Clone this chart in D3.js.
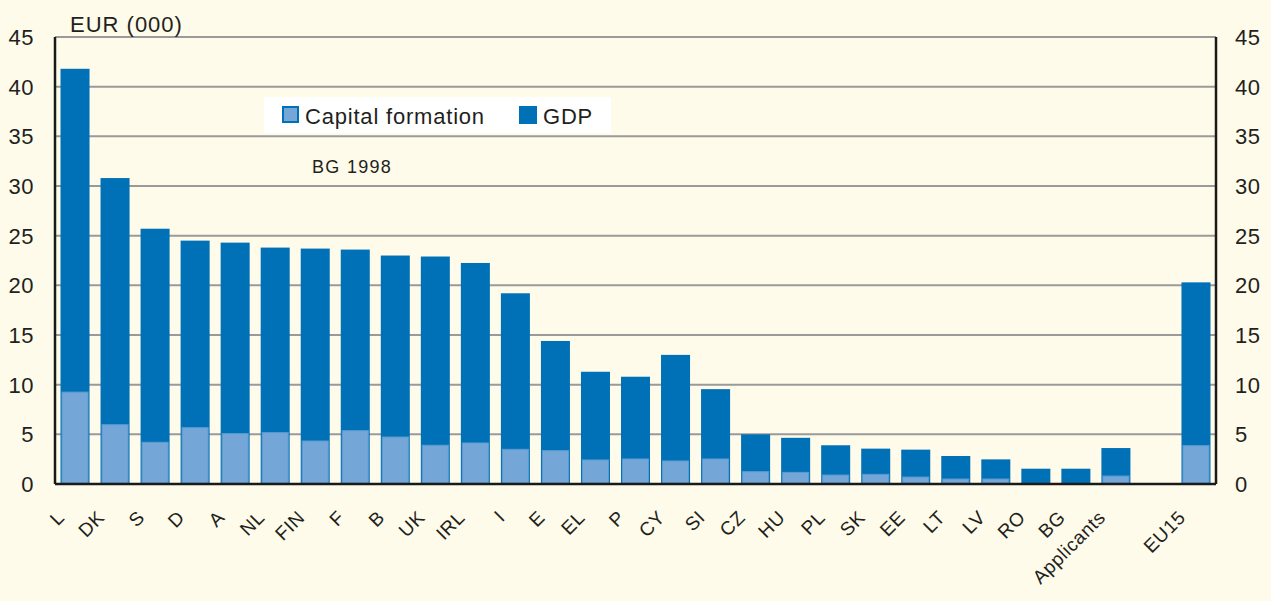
<!DOCTYPE html>
<html>
<head>
<meta charset="utf-8">
<script src="https://cdn.jsdelivr.net/npm/d3@7"></script>
<style>
  body { margin: 0; background: #fefbea; }
  svg { display: block; font-family: "Liberation Sans", Arial, sans-serif; }
</style>
</head>
<body>
<div id="chart"></div>
<script>
// Countries (empty slot before EU15 keeps the gap)
const countries = ['L', 'DK', 'S', 'D', 'A', 'NL', 'FIN', 'F', 'B', 'UK', 'IRL', 'I', 'E', 'EL', 'P',
  'CY', 'SI', 'CZ', 'HU', 'PL', 'SK', 'EE', 'LT', 'LV', 'RO', 'BG', 'Applicants', '', 'EU15'];
// GDP per head, EUR (000)
const gdp = [41.8, 30.8, 25.7, 24.5, 24.3, 23.8, 23.7, 23.6, 23.0, 22.9, 22.25, 19.2, 14.4, 11.3, 10.8,
  13.0, 9.55, 5.0, 4.65, 3.9, 3.56, 3.46, 2.82, 2.48, 1.54, 1.54, 3.62, null, 20.3];
// Gross fixed capital formation per head, EUR (000)
const capital = [9.25, 5.97, 4.2, 5.67, 5.07, 5.17, 4.33, 5.37, 4.73, 3.9, 4.13, 3.49, 3.36, 2.42, 2.52,
  2.32, 2.52, 1.24, 1.17, 0.9, 0.97, 0.7, 0.5, 0.5, 0, 0, 0.8, null, 3.86];
const yTicks = [0, 5, 10, 15, 20, 25, 30, 35, 40, 45];

const width = 1271, height = 601;
const margin = { left: 55, right: 55, top: 37, bottom: 117 };
const dark = '#0071b7', light = '#74a7d7', bg = '#fefbea', ink = '#231f20';

const svg = d3.select('#chart').append('svg')
  .attr('width', width)
  .attr('height', height);

svg.append('rect').attr('width', width).attr('height', height).attr('fill', bg);

const x = d3.scaleBand()
  .domain(countries.map((c, i) => i))
  .range([margin.left, width - margin.right])
  .paddingInner(0.275)
  .paddingOuter(0.1375);

const y = d3.scaleLinear()
  .domain([0, 45])
  .range([height - margin.bottom, margin.top]);

// grid lines
svg.append('g')
  .selectAll('line')
  .data(yTicks.filter(d => d > 0))
  .enter()
  .append('line')
  .attr('x1', margin.left)
  .attr('x2', width - margin.right)
  .attr('y1', d => y(d))
  .attr('y2', d => y(d))
  .style('stroke', '#9a9a9a')
  .style('stroke-width', 2);

const data = countries.map((c, i) => ({ i, c, gdp: gdp[i], cap: capital[i] }))
  .filter(d => d.gdp != null);

// GDP bars
svg.append('g')
  .selectAll('rect')
  .data(data)
  .enter()
  .append('rect')
  .attr('x', d => x(d.i))
  .attr('y', d => y(d.gdp))
  .attr('width', x.bandwidth())
  .attr('height', d => y(0) - y(d.gdp))
  .style('fill', dark);

// capital formation bars
svg.append('g')
  .selectAll('rect')
  .data(data.filter(d => d.cap > 0))
  .enter()
  .append('rect')
  .attr('x', d => x(d.i) + 1.5)
  .attr('y', d => y(d.cap))
  .attr('width', x.bandwidth() - 3)
  .attr('height', d => y(0) - y(d.cap) - 1)
  .style('fill', light)
  .style('stroke', '#5b9bd0')
  .style('stroke-width', 1);

// axes frame
const axisStyle = sel => sel.style('stroke', '#1a1a1a').style('stroke-width', 2.5);
svg.append('line').attr('x1', margin.left).attr('x2', margin.left)
  .attr('y1', y(45)).attr('y2', y(0)).call(axisStyle);
svg.append('line').attr('x1', width - margin.right).attr('x2', width - margin.right)
  .attr('y1', y(45)).attr('y2', y(0)).call(axisStyle);
svg.append('line').attr('x1', margin.left).attr('x2', width - margin.right)
  .attr('y1', y(0)).attr('y2', y(0)).call(axisStyle);

// y tick labels, both sides
svg.append('g')
  .selectAll('text')
  .data(yTicks)
  .enter()
  .append('text')
  .attr('x', 34)
  .attr('y', d => y(d))
  .attr('dy', '0.36em')
  .style('text-anchor', 'end')
  .style('font-size', '22px')
  .style('letter-spacing', '0.5px')
  .style('fill', ink)
  .text(d => d);

svg.append('g')
  .selectAll('text')
  .data(yTicks)
  .enter()
  .append('text')
  .attr('x', 1235)
  .attr('y', d => y(d))
  .attr('dy', '0.36em')
  .style('text-anchor', 'start')
  .style('font-size', '22px')
  .style('letter-spacing', '0.5px')
  .style('fill', ink)
  .text(d => d);

// x labels, rotated
svg.append('g')
  .selectAll('text')
  .data(data)
  .enter()
  .append('text')
  .attr('transform', d => `translate(${x(d.i) + x.bandwidth() / 2 - 14},${y(0) + 30}) rotate(-45)`)
  .style('text-anchor', 'end')
  .attr('dy', '0.35em')
  .style('font-size', '19px')
  .style('letter-spacing', '0.6px')
  .style('fill', ink)
  .text(d => d.c);

// unit label
svg.append('text')
  .attr('x', 70)
  .attr('y', 32)
  .style('font-size', '22px')
  .style('letter-spacing', '1px')
  .style('fill', ink)
  .text('EUR (000)');

// legend
const legend = svg.append('g');
legend.append('rect')
  .attr('x', 264).attr('y', 97).attr('width', 347).attr('height', 36)
  .style('fill', 'white');
legend.append('rect')
  .attr('x', 283).attr('y', 107).attr('width', 15).attr('height', 15)
  .style('fill', light).style('stroke', dark).style('stroke-width', 2);
legend.append('text')
  .attr('x', 305).attr('y', 124)
  .style('font-size', '22px').style('letter-spacing', '0.8px').style('fill', ink)
  .text('Capital formation');
legend.append('rect')
  .attr('x', 519).attr('y', 106).attr('width', 18).attr('height', 18)
  .style('fill', dark);
legend.append('text')
  .attr('x', 543).attr('y', 124)
  .style('font-size', '22px').style('letter-spacing', '0.8px').style('fill', ink)
  .text('GDP');

svg.append('text')
  .attr('x', 312)
  .attr('y', 173)
  .style('font-size', '18px')
  .style('letter-spacing', '1.3px')
  .style('fill', ink)
  .text('BG 1998');
</script>
</body>
</html>
